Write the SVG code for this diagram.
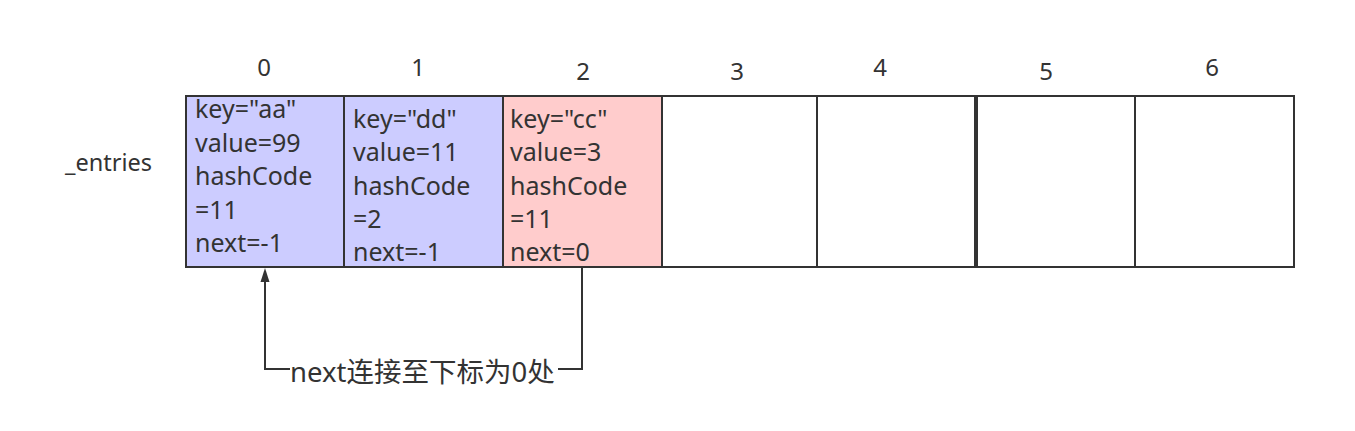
<svg xmlns="http://www.w3.org/2000/svg" width="1355" height="431" viewBox="0 0 1355 431">
<style>
.cell{stroke:#333333;stroke-width:2}
.blue{fill:#CCCCFF}
.pink{fill:#FFCCCC}
.white{fill:#FFFFFF}
.t{font-family:"Noto Sans","Noto Sans CJK SC",sans-serif;font-size:25px;fill:#333333}
.idx{font-family:"Noto Sans","Noto Sans CJK SC",sans-serif;font-size:24px;fill:#333333;text-anchor:middle}
.lbl{font-family:"Noto Sans","Noto Sans CJK SC",sans-serif;font-size:27.5px;fill:#333333}
.conn{fill:none;stroke:#333333;stroke-width:2}
</style>
<rect width="1355" height="431" fill="#FFFFFF"/>
<text class="t" x="65" y="171" style="font-size:23.5px">_entries</text>
<g id="idx">
<text class="idx" x="264" y="76">0</text>
<text class="idx" x="418" y="76">1</text>
<text class="idx" x="583" y="80">2</text>
<text class="idx" x="737" y="80">3</text>
<text class="idx" x="880" y="76">4</text>
<text class="idx" x="1046" y="80">5</text>
<text class="idx" x="1212" y="76">6</text>
</g>
<g id="cell0">
<rect class="cell blue" x="186" y="96" width="158" height="171"/>
<text class="t" x="195" y="118">key="aa"</text>
<text class="t" x="195" y="152">value=99</text>
<text class="t" x="195" y="185">hashCode</text>
<text class="t" x="195" y="219">=11</text>
<text class="t" x="195" y="252">next=-1</text>
</g>
<g id="cell1">
<rect class="cell blue" x="344" y="96" width="159" height="171"/>
<text class="t" x="353" y="128">key="dd"</text>
<text class="t" x="353" y="161">value=11</text>
<text class="t" x="353" y="195">hashCode</text>
<text class="t" x="353" y="228">=2</text>
<text class="t" x="353" y="261">next=-1</text>
</g>
<g id="cell2">
<rect class="cell pink" x="503" y="96" width="159" height="171"/>
<text class="t" x="510" y="128">key="cc"</text>
<text class="t" x="510" y="161">value=3</text>
<text class="t" x="510" y="195">hashCode</text>
<text class="t" x="510" y="228">=11</text>
<text class="t" x="510" y="261">next=0</text>
</g>
<g id="cell3"><rect class="cell white" x="662" y="96" width="155" height="171"/></g>
<g id="cell4"><rect class="cell white" x="817" y="96" width="158" height="171"/></g>
<g id="cell5"><rect class="cell white" x="977" y="96" width="158" height="171"/></g>
<g id="cell6"><rect class="cell white" x="1135" y="96" width="159" height="171"/></g>
<g id="connectors">
<path class="conn" d="M582,267 V369 H558"/>
<path class="conn" d="M290,369 H265 V280"/>
<polygon points="260.5,282 265,268 269.5,282" fill="#333333"/>
<text class="lbl" x="290" y="382">next连接至下标为0处</text>
</g>
</svg>
